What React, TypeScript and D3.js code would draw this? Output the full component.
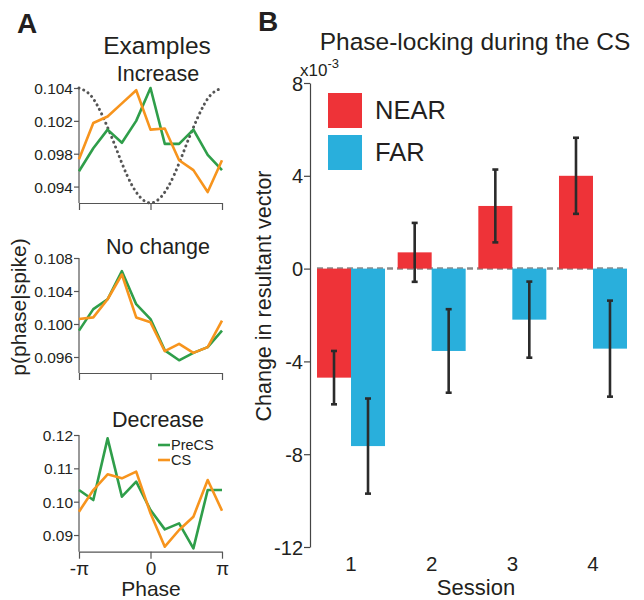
import React, { useRef, useEffect } from "react";
import * as d3 from "d3";

// ---- panel A data (phase in units of pi) ----
const phaseBins = [-1, -0.8, -0.6, -0.4, -0.2, 0, 0.2, 0.4, 0.6, 0.8, 1];

const incPreCS = [0.0964, 0.0985, 0.1002, 0.099, 0.101, 0.104, 0.0989, 0.0989, 0.1002, 0.0979, 0.0965];
const incCS = [0.0975, 0.1008, 0.1014, 0.1026, 0.1038, 0.1002, 0.1003, 0.0974, 0.0965, 0.0945, 0.0974];
const incTicks = [0.095, 0.098, 0.101, 0.104];
const incTickLabels = ["0.094", "0.098", "0.102", "0.104"];

const cosPhase = [-1, -0.833, -0.667, -0.5, -0.333, -0.167, 0, 0.167, 0.333, 0.5, 0.667, 0.833, 1];
const cosRef = [0.104, 0.1033, 0.1014, 0.0988, 0.0961, 0.0942, 0.0935, 0.0942, 0.0961, 0.0988, 0.1014, 0.1033, 0.104];

const noPreCS = [0.0992, 0.1018, 0.103, 0.1064, 0.1024, 0.1006, 0.0968, 0.0956, 0.0965, 0.0972, 0.0992];
const noCS = [0.1006, 0.1008, 0.103, 0.106, 0.1008, 0.1002, 0.0967, 0.0976, 0.0965, 0.0972, 0.1004];
const noTicks = [0.096, 0.1, 0.104, 0.108];
const noTickLabels = ["0.096", "0.100", "0.104", "0.108"];

const decPreCS = [0.1035, 0.1005, 0.119, 0.1015, 0.106, 0.0975, 0.0917, 0.0935, 0.086, 0.1035, 0.1035];
const decCS = [0.097, 0.1035, 0.1082, 0.107, 0.109, 0.0965, 0.0865, 0.0915, 0.0955, 0.1065, 0.0973];
const decTicks = [0.09, 0.1, 0.11, 0.12];
const decTickLabels = ["0.09", "0.10", "0.11", "0.12"];

const phaseTicks = [-1, 0, 1];
const phaseTickLabels = ["-\u03c0", "0", "\u03c0"];

// ---- panel B data (x10^-3) ----
const sessions = ["1", "2", "3", "4"];
const groups = ["NEAR", "FAR"];
const nearMean = [-4.7, 0.7, 2.7, 4.0];
const nearErr = [1.15, 1.27, 1.57, 1.64];
const farMean = [-7.65, -3.55, -2.2, -3.45];
const farErr = [2.05, 1.8, 1.64, 2.07];
const bTicks = [-12, -8, -4, 0, 4, 8];

const GREEN = "#2f9e4a";
const ORANGE = "#f7941d";
const RED = "#ee3338";
const BLUE = "#29afdc";
const FONT = "'Liberation Sans', Arial, sans-serif";

const App = () => {
  const svgRef = useRef(null);

  useEffect(() => {
    const svg = d3.select(svgRef.current);
    svg.selectAll("*").remove();
    svg.attr("width", 644).attr("height", 600).style("font-family", FONT);

    const txt = (x, y, s, size, anchor = "middle", weight = "normal") =>
      svg
        .append("text")
        .attr("x", x)
        .attr("y", y)
        .attr("text-anchor", anchor)
        .attr("font-size", size)
        .attr("font-weight", weight)
        .attr("fill", "#231f20")
        .text(s);

    // ===== Panel A =====
    txt(17, 33, "A", 28, "start", "bold");
    txt(157, 54, "Examples", 24.5);

    const x = d3.scaleLinear().domain([-1, 1]).range([79, 222]);

    const panels = [
      { title: "Increase", titleY: 81, dom: [0.0935, 0.104], rng: [203, 88], ticks: incTicks, labels: incTickLabels, pre: incPreCS, cs: incCS, ref: true, showX: false },
      { title: "No change", titleY: 254, dom: [0.09406, 0.108], rng: [373, 258], ticks: noTicks, labels: noTickLabels, pre: noPreCS, cs: noCS, ref: false, showX: false },
      { title: "Decrease", titleY: 427, dom: [0.085, 0.12], rng: [551.7, 435], ticks: decTicks, labels: decTickLabels, pre: decPreCS, cs: decCS, ref: false, showX: true },
    ];

    panels.forEach((p) => {
      const y = d3.scaleLinear().domain(p.dom).range(p.rng);
      txt(158, p.titleY, p.title, 21.5);

      const ya = svg
        .append("g")
        .attr("transform", `translate(79,0)`)
        .call(
          d3
            .axisLeft(y)
            .tickValues(p.ticks)
            .tickSize(5)
            .tickSizeOuter(0)
            .tickFormat((d, i) => p.labels[i])
        );
      ya.select(".domain").attr("d", `M0,${p.rng[1]}V${p.rng[0]}`);
      ya.selectAll("path,line").attr("stroke", "#555").attr("stroke-width", 1.2);
      ya.selectAll("text").attr("font-size", 15.5).attr("font-family", FONT).attr("fill", "#231f20").attr("x", -6).attr("dy", "0.35em");

      const xa = svg
        .append("g")
        .attr("transform", `translate(0,${p.rng[0]})`)
        .call(
          d3
            .axisBottom(x)
            .tickValues(phaseTicks)
            .tickSize(7)
            .tickSizeOuter(0)
            .tickFormat((d, i) => (p.showX ? phaseTickLabels[i] : ""))
        );
      xa.selectAll("path,line").attr("stroke", "#555").attr("stroke-width", 1.2);
      xa.selectAll("text").attr("font-size", 19).attr("font-family", FONT).attr("fill", "#231f20").attr("y", 8).attr("dy", "0.8em");

      const line = d3
        .line()
        .x((d, i) => x(phaseBins[i]))
        .y((d) => y(d));

      if (p.ref) {
        const refLine = d3
          .line()
          .x((d, i) => x(cosPhase[i]))
          .y((d) => y(d))
          .curve(d3.curveNatural);
        svg
          .append("path")
          .attr("d", refLine(cosRef))
          .attr("fill", "none")
          .attr("stroke", "#555")
          .attr("stroke-width", 3)
          .attr("stroke-linecap", "round")
          .attr("stroke-dasharray", "0.1,5");
      }

      svg.append("path").attr("d", line(p.pre)).attr("fill", "none").attr("stroke", GREEN).attr("stroke-width", 2.6).attr("stroke-linejoin", "round");
      svg.append("path").attr("d", line(p.cs)).attr("fill", "none").attr("stroke", ORANGE).attr("stroke-width", 2.6).attr("stroke-linejoin", "round");
    });

    // legend for panel A
    [
      ["PreCS", GREEN, 445],
      ["CS", ORANGE, 460],
    ].forEach(([name, c, yy]) => {
      svg.append("line").attr("x1", 158).attr("x2", 170).attr("y1", yy).attr("y2", yy).attr("stroke", c).attr("stroke-width", 2.6);
      txt(171, yy + 5, name, 14.5, "start");
    });

    txt(151, 596, "Phase", 21);
    svg
      .append("text")
      .attr("transform", "translate(26,307) rotate(-90)")
      .attr("text-anchor", "middle")
      .attr("font-size", 21)
      .attr("fill", "#231f20")
      .text("p(phase|spike)");

    // ===== Panel B =====
    txt(258, 31, "B", 28, "start", "bold");
    txt(475, 50, "Phase-locking during the CS", 24.5);

    const yB = d3.scaleLinear().domain([-12, 8]).range([547, 83]);
    const x0 = d3.scaleBand().domain(sessions).range([310, 634]).paddingInner(0.157).paddingOuter(0.087);
    const x1 = d3.scaleBand().domain(groups).range([0, x0.bandwidth()]);

    // zero reference
    svg
      .append("line")
      .attr("x1", x0("1"))
      .attr("x2", x0("4") + x0.bandwidth())
      .attr("y1", yB(0))
      .attr("y2", yB(0))
      .attr("stroke", "#8a8a8a")
      .attr("stroke-width", 2.5)
      .attr("stroke-dasharray", "6,4");

    const rows = sessions.flatMap((s, i) => [
      { s, g: "NEAR", v: nearMean[i], e: nearErr[i], c: RED },
      { s, g: "FAR", v: farMean[i], e: farErr[i], c: BLUE },
    ]);

    svg
      .selectAll(".bar")
      .data(rows)
      .enter()
      .append("rect")
      .attr("class", "bar")
      .attr("x", (d) => x0(d.s) + x1(d.g))
      .attr("width", x1.bandwidth())
      .attr("y", (d) => yB(Math.max(0, d.v)))
      .attr("height", (d) => Math.abs(yB(d.v) - yB(0)))
      .attr("fill", (d) => d.c);

    const eb = svg
      .selectAll(".err")
      .data(rows)
      .enter()
      .append("g")
      .attr("class", "err")
      .attr("transform", (d) => `translate(${x0(d.s) + x1(d.g) + x1.bandwidth() / 2},0)`)
      .attr("stroke", "#2b2b2b")
      .attr("stroke-width", 2.6);
    eb.append("line").attr("y1", (d) => yB(d.v + d.e)).attr("y2", (d) => yB(d.v - d.e));
    eb.append("line").attr("x1", -3).attr("x2", 3).attr("y1", (d) => yB(d.v + d.e)).attr("y2", (d) => yB(d.v + d.e));
    eb.append("line").attr("x1", -3).attr("x2", 3).attr("y1", (d) => yB(d.v - d.e)).attr("y2", (d) => yB(d.v - d.e));

    const yaB = svg
      .append("g")
      .attr("transform", "translate(310,0)")
      .call(d3.axisLeft(yB).tickValues(bTicks).tickSize(6).tickSizeOuter(0).tickFormat((d) => String(d)));
    yaB.selectAll("path,line").attr("stroke", "#444").attr("stroke-width", 1.2);
    yaB.selectAll("text").attr("font-size", 20).attr("font-family", FONT).attr("fill", "#231f20").attr("x", -7).attr("dy", "0.35em");

    const xaB = svg
      .append("g")
      .attr("transform", "translate(0,547)")
      .call(d3.axisBottom(x0).tickSize(0));
    xaB.select(".domain").remove();
    xaB.selectAll("text").attr("font-size", 20.5).attr("font-family", FONT).attr("fill", "#231f20").attr("y", 8).attr("dy", "0.8em");

    // x10^-3
    const sup = svg.append("text").attr("x", 300).attr("y", 76).attr("font-size", 17).attr("fill", "#231f20");
    sup.append("tspan").text("x10");
    sup.append("tspan").attr("font-size", 13).attr("dy", -8).text("-3");

    txt(476, 595, "Session", 22);
    svg
      .append("text")
      .attr("transform", "translate(271,296) rotate(-90)")
      .attr("text-anchor", "middle")
      .attr("font-size", 21.5)
      .attr("fill", "#231f20")
      .text("Change in resultant vector");

    // legend B
    [
      ["NEAR", RED, 93],
      ["FAR", BLUE, 135],
    ].forEach(([name, c, yy]) => {
      svg.append("rect").attr("x", 328).attr("y", yy).attr("width", 34).attr("height", 35).attr("fill", c);
      txt(375, yy + 26, name, 25.5, "start");
    });
  }, []);

  return (
    <div style={{ position: "absolute", left: 0, top: 0 }}>
      <svg ref={svgRef}></svg>
    </div>
  );
};

export default App;
